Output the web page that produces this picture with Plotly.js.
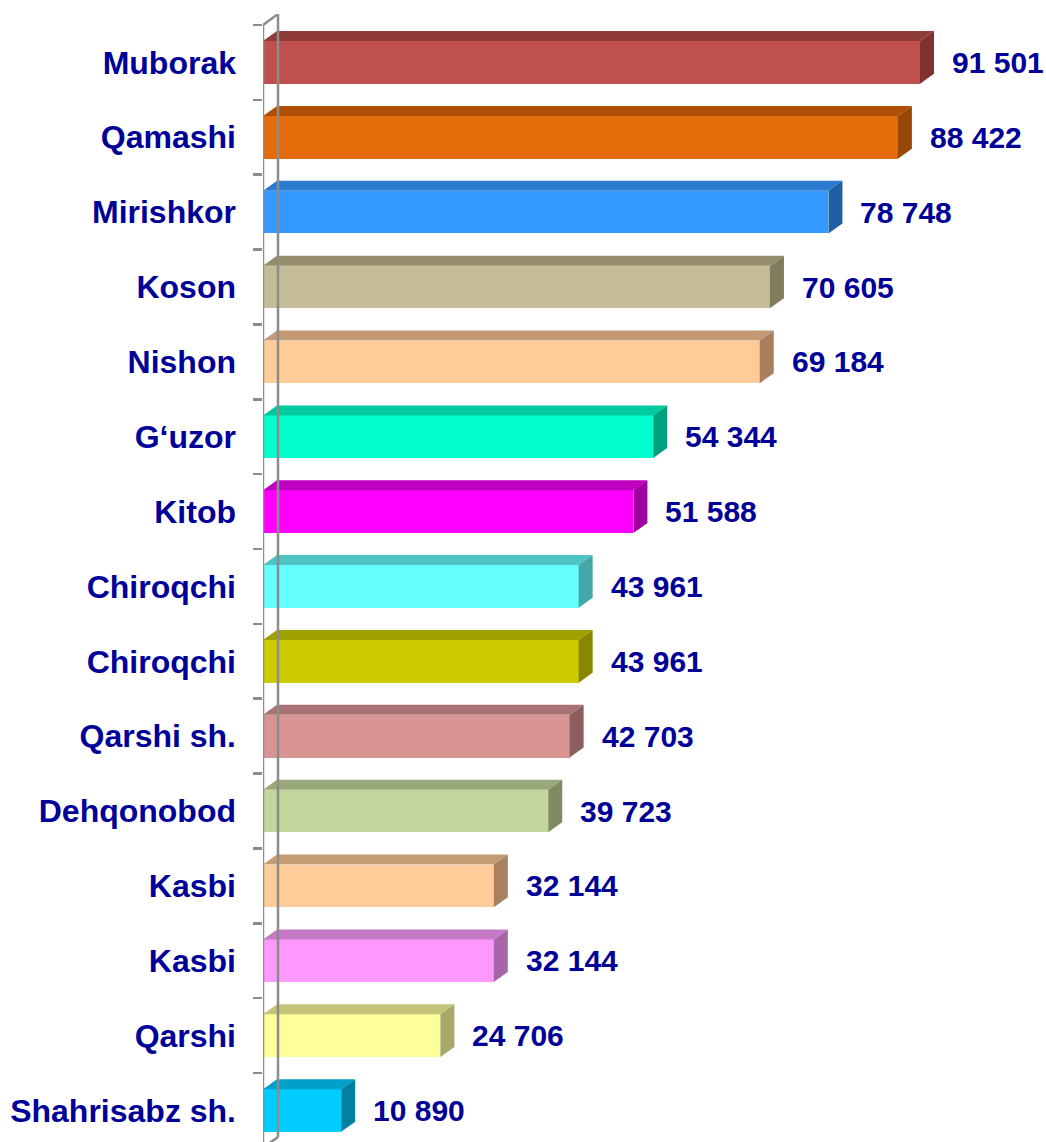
<!DOCTYPE html>
<html>
<head>
<meta charset="utf-8">
<script src="https://cdn.plot.ly/plotly-3.0.1.min.js"></script>
<style>html,body{margin:0;padding:0;background:#fff;}#chart{width:1046px;height:1142px;}</style>
</head>
<body>
<div id="chart"></div>
<script>
// ---- data ----
const categories = ["Muborak","Qamashi","Mirishkor","Koson","Nishon","G\u2018uzor","Kitob","Chiroqchi","Chiroqchi","Qarshi sh.","Dehqonobod","Kasbi","Kasbi","Qarshi","Shahrisabz sh."];
const values = [91501, 88422, 78748, 70605, 69184, 54344, 51588, 43961, 43961, 42703, 39723, 32144, 32144, 24706, 10890];
const valueLabels = ["91 501","88 422","78 748","70 605","69 184","54 344","51 588","43 961","43 961","42 703","39 723","32 144","32 144","24 706","10 890"];
const frontColors = ["#C0504D","#E46C0A","#3399FF","#C4BD97","#FFCC99","#00FFCC","#FF00FF","#66FFFF","#CCCC00","#D99594","#C3D69B","#FFCC99","#FF99FF","#FFFF99","#00CCFF"];
const topColors   = ["#8E3B39","#B05006","#2A7BD0","#948C6B","#C49A74","#00C9A0","#C000C0","#4DC4C4","#A0A000","#A87272","#98A878","#C49C74","#C47AC4","#C4C47A","#00A0C8"];
const sideColors  = ["#7F3230","#974806","#1F5FA6","#807D5F","#A8805F","#00A07F","#A000A0","#45A8A8","#888800","#8C5E5E","#7F8C62","#A88260","#A866A8","#A8A868","#0080A0"];

// ---- layout geometry ----
const FIG_W = 1046, FIG_H = 1142;
const M = {l: 263, r: 0, t: 14, b: 0};
const plotW = FIG_W - M.l - M.r, plotH = FIG_H - M.t - M.b;
const XMAX = 109050;
const pxX = plotW / XMAX;           // px per value unit
const pxY = 74.86;                  // px per category
const yTop = -0.5 - 11 / pxY;
const yBot = yTop + plotH / pxY;
const BAR_W = 0.57;
const DX = 14 / pxX, DY = 10 / pxY; // 3D depth
const WDX = 15 / pxX, WDY = 11 / pxY; // wall depth

const idx = categories.map((_, i) => i);
const traces = [];

traces.push({
  type: 'bar', orientation: 'h', x: values, y: idx, width: BAR_W,
  marker: {color: frontColors, line: {width: 0}},
  hoverinfo: 'skip', showlegend: false
});

values.forEach((v, i) => {
  const yt = i - BAR_W / 2, yb = i + BAR_W / 2;
  traces.push({
    type: 'scatter', mode: 'lines', fill: 'toself', fillcolor: topColors[i],
    line: {width: 0, color: topColors[i]},
    x: [0, v, v + DX, DX, 0], y: [yt, yt, yt - DY, yt - DY, yt],
    hoverinfo: 'skip', showlegend: false
  });
  traces.push({
    type: 'scatter', mode: 'lines', fill: 'toself', fillcolor: sideColors[i],
    line: {width: 0, color: sideColors[i]},
    x: [v, v + DX, v + DX, v, v], y: [yt, yt - DY, yb - DY, yb, yt],
    hoverinfo: 'skip', showlegend: false
  });
});

const wallColor = '#8C8C8C';
const nCat = categories.length;
const shapes = [
  {type:'line', xref:'x', yref:'y', x0:0, x1:0, y0:-0.5, y1:nCat - 0.5, line:{color:wallColor, width:2.5}},
  {type:'line', xref:'x', yref:'y', x0:WDX, x1:WDX, y0:-0.5 - WDY, y1:nCat - 0.5 - WDY, line:{color:wallColor, width:2.5}},
  {type:'line', xref:'x', yref:'y', x0:0, x1:WDX, y0:-0.5, y1:-0.5 - WDY, line:{color:wallColor, width:2.5}},
  {type:'line', xref:'x', yref:'y', x0:0, x1:WDX, y0:nCat - 0.5, y1:nCat - 0.5 - WDY, line:{color:wallColor, width:2.5}}
];

const annotations = values.map((v, i) => ({
  x: v, y: i, xref: 'x', yref: 'y', text: valueLabels[i], showarrow: false,
  xanchor: 'left', yanchor: 'middle', xshift: 30,
  font: {family: 'Arial, Liberation Sans, sans-serif', size: 30, color: '#000099', weight: 'bold'}
}));

const layout = {
  width: FIG_W, height: FIG_H,
  margin: M,
  paper_bgcolor: '#ffffff', plot_bgcolor: '#ffffff',
  showlegend: false,
  bargap: 0,
  xaxis: {range: [0, XMAX], visible: false, fixedrange: true},
  yaxis: {
    range: [yBot, yTop], tickmode: 'array', tickvals: idx, ticktext: categories,
    ticks: '', showgrid: false, zeroline: false, showline: false,
    ticklabelstandoff: 26,
    tickfont: {family: 'Arial, Liberation Sans, sans-serif', size: 32, color: '#000099', weight: 'bold'},
    minor: {ticks: 'outside', ticklen: 9, tickwidth: 2.5, tickcolor: wallColor, tickmode: 'linear', tick0: -0.5, dtick: 1, showgrid: false},
    fixedrange: true
  },
  shapes: shapes,
  annotations: annotations
};

Plotly.newPlot('chart', traces, layout, {displayModeBar: false, staticPlot: true});
</script>
</body>
</html>
